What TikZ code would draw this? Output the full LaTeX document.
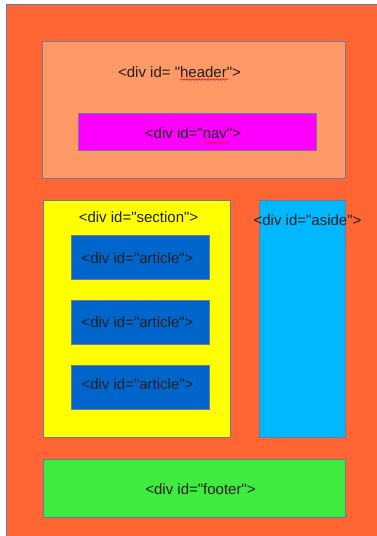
\documentclass[tikz,border=0pt]{standalone}
\usepackage{fontspec}
\setmainfont[Ligatures=TeXOff]{Liberation Sans}
\usetikzlibrary{decorations.pathmorphing}
\newcommand{\qt}{\symbol{34}}
\definecolor{outerc}{HTML}{FF6633}
\definecolor{headc}{HTML}{FF9966}
\definecolor{navc}{HTML}{FF00FF}
\definecolor{secc}{HTML}{FFFF00}
\definecolor{artc}{HTML}{0066CC}
\definecolor{asidec}{HTML}{00B8FF}
\definecolor{footc}{HTML}{3FEB3F}
\definecolor{edgec}{HTML}{6E7A9C}
\definecolor{txtc}{HTML}{1E1E1E}
\begin{document}
\begin{tikzpicture}[x=1pt,y=-1pt,
  box/.style={draw=edgec,line width=1pt,inner sep=0pt,outer sep=0pt},
  lbl/.style={text=txtc,font=\fontsize{15}{18}\selectfont,inner sep=0pt},
  spell/.style={draw=red,line width=0.5pt,decorate,decoration={snake,amplitude=0.8pt,segment length=3pt}}]
\useasboundingbox (0,0) rectangle (377,536);
\fill[white] (0,0) rectangle (377,536);
% outer page
\fill[outerc] (6,4) rectangle (378,537);
\draw[edgec,line width=1pt] (6.5,537) -- (6.5,4.5) -- (378,4.5);
% boxes
\path[box,fill=headc] (42,41) rectangle (345,178) node[pos=0.5] (header) {};
\path[box,fill=navc] (78,113) rectangle (316,150) node[pos=0.5] (nav) {};
\path[box,fill=secc] (43,200) rectangle (230,437) node[pos=0.5] (section) {};
\path[box,fill=artc] (71,235) rectangle (209,279) node[pos=0.5] (art1) {};
\path[box,fill=artc] (71,300) rectangle (209,344) node[pos=0.5] (art2) {};
\path[box,fill=artc] (71,365) rectangle (209,409) node[pos=0.5] (art3) {};
\path[box,fill=asidec] (259,200) rectangle (345,437) node[pos=0.5] (aside) {};
\path[box,fill=footc] (43,459) rectangle (345,517) node[pos=0.5] (footer) {};
% labels
\node[lbl] (theader) at (179.5,72) {<div id= \qt header\qt >};
\node[lbl] (tnav) at (193,133) {<div id=\qt nav\qt >};
\node[lbl] (tsection) at (138.5,217) {<div id=\qt section\qt >};
\node[lbl] (tart1) at (137.5,258) {<div id=\qt article\qt >};
\node[lbl] (tart2) at (137.5,322) {<div id=\qt article\qt >};
\node[lbl] (tart3) at (137.5,384) {<div id=\qt article\qt >};
\node[lbl] (taside) at (307.5,220) {<div id=\qt aside\qt >};
\node[lbl] (tfooter) at (200.5,489) {<div id=\qt footer\qt >};
% spell-check marks
\draw[spell] (180,79.5) -- (228,79.5);
\draw[spell] (203,142.5) -- (228,142.5);
\end{tikzpicture}
\end{document}
